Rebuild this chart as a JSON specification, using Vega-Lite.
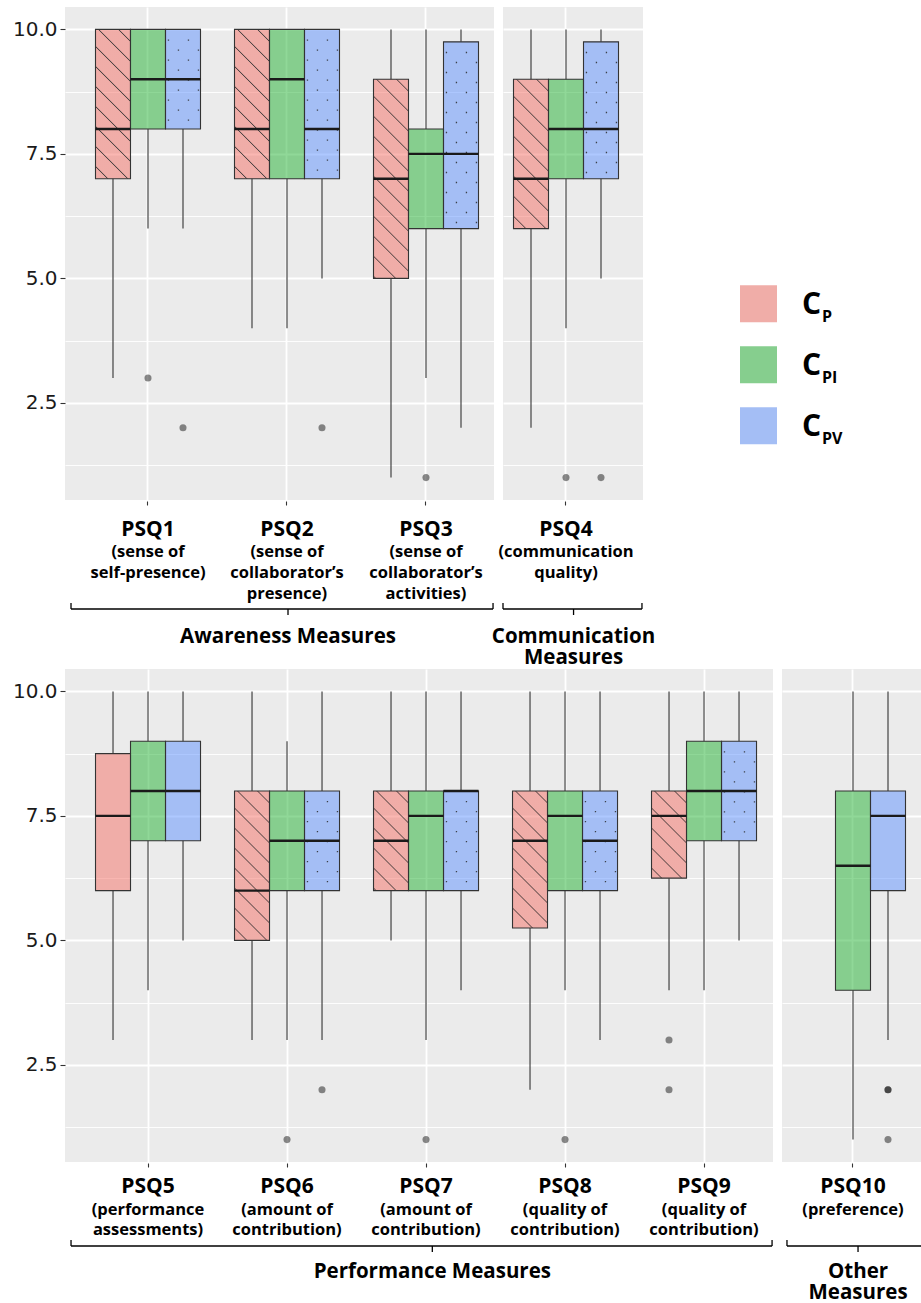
{
  "$schema": "https://vega.github.io/schema/vega-lite/v6.json",
  "background": "white",
  "padding": {"left": 12, "top": 7, "right": 0, "bottom": 0},
  "autosize": {"type": "pad"},
  "config": {"view": {"stroke": null}, "font": "Open Sans"},
  "datasets": {
    "boxes": [
      {"q": "PSQ1", "cond": "Cp", "lower": 3, "q1": 7, "median": 8, "q3": 10, "upper": 10},
      {"q": "PSQ1", "cond": "Cpi", "lower": 6, "q1": 8, "median": 9, "q3": 10, "upper": 10},
      {"q": "PSQ1", "cond": "Cpv", "lower": 6, "q1": 8, "median": 9, "q3": 10, "upper": 10},
      {"q": "PSQ2", "cond": "Cp", "lower": 4, "q1": 7, "median": 8, "q3": 10, "upper": 10},
      {"q": "PSQ2", "cond": "Cpi", "lower": 4, "q1": 7, "median": 9, "q3": 10, "upper": 10},
      {"q": "PSQ2", "cond": "Cpv", "lower": 5, "q1": 7, "median": 8, "q3": 10, "upper": 10},
      {"q": "PSQ3", "cond": "Cp", "lower": 1, "q1": 5, "median": 7, "q3": 9, "upper": 10},
      {"q": "PSQ3", "cond": "Cpi", "lower": 3, "q1": 6, "median": 7.5, "q3": 8, "upper": 10},
      {"q": "PSQ3", "cond": "Cpv", "lower": 2, "q1": 6, "median": 7.5, "q3": 9.75, "upper": 10},
      {"q": "PSQ4", "cond": "Cp", "lower": 2, "q1": 6, "median": 7, "q3": 9, "upper": 10},
      {"q": "PSQ4", "cond": "Cpi", "lower": 4, "q1": 7, "median": 8, "q3": 9, "upper": 10},
      {"q": "PSQ4", "cond": "Cpv", "lower": 5, "q1": 7, "median": 8, "q3": 9.75, "upper": 10},
      {"q": "PSQ5", "cond": "Cp", "lower": 3, "q1": 6, "median": 7.5, "q3": 8.75, "upper": 10},
      {"q": "PSQ5", "cond": "Cpi", "lower": 4, "q1": 7, "median": 8, "q3": 9, "upper": 10},
      {"q": "PSQ5", "cond": "Cpv", "lower": 5, "q1": 7, "median": 8, "q3": 9, "upper": 10},
      {"q": "PSQ6", "cond": "Cp", "lower": 3, "q1": 5, "median": 6, "q3": 8, "upper": 10},
      {"q": "PSQ6", "cond": "Cpi", "lower": 3, "q1": 6, "median": 7, "q3": 8, "upper": 9},
      {"q": "PSQ6", "cond": "Cpv", "lower": 3, "q1": 6, "median": 7, "q3": 8, "upper": 10},
      {"q": "PSQ7", "cond": "Cp", "lower": 5, "q1": 6, "median": 7, "q3": 8, "upper": 10},
      {"q": "PSQ7", "cond": "Cpi", "lower": 3, "q1": 6, "median": 7.5, "q3": 8, "upper": 10},
      {"q": "PSQ7", "cond": "Cpv", "lower": 4, "q1": 6, "median": 8, "q3": 8, "upper": 10},
      {"q": "PSQ8", "cond": "Cp", "lower": 2, "q1": 5.25, "median": 7, "q3": 8, "upper": 10},
      {"q": "PSQ8", "cond": "Cpi", "lower": 4, "q1": 6, "median": 7.5, "q3": 8, "upper": 10},
      {"q": "PSQ8", "cond": "Cpv", "lower": 3, "q1": 6, "median": 7, "q3": 8, "upper": 10},
      {"q": "PSQ9", "cond": "Cp", "lower": 4, "q1": 6.25, "median": 7.5, "q3": 8, "upper": 10},
      {"q": "PSQ9", "cond": "Cpi", "lower": 4, "q1": 7, "median": 8, "q3": 9, "upper": 10},
      {"q": "PSQ9", "cond": "Cpv", "lower": 5, "q1": 7, "median": 8, "q3": 9, "upper": 10},
      {"q": "PSQ10", "cond": "Cpi", "lower": 1, "q1": 4, "median": 6.5, "q3": 8, "upper": 10},
      {"q": "PSQ10", "cond": "Cpv", "lower": 3, "q1": 6, "median": 7.5, "q3": 8, "upper": 10}
    ],
    "outliers": [
      {"q": "PSQ1", "cond": "Cpi", "value": 3},
      {"q": "PSQ1", "cond": "Cpv", "value": 2},
      {"q": "PSQ2", "cond": "Cpv", "value": 2},
      {"q": "PSQ3", "cond": "Cpi", "value": 1},
      {"q": "PSQ4", "cond": "Cpi", "value": 1},
      {"q": "PSQ4", "cond": "Cpv", "value": 1},
      {"q": "PSQ6", "cond": "Cpi", "value": 1},
      {"q": "PSQ6", "cond": "Cpv", "value": 2},
      {"q": "PSQ7", "cond": "Cpi", "value": 1},
      {"q": "PSQ8", "cond": "Cpi", "value": 1},
      {"q": "PSQ9", "cond": "Cp", "value": 3},
      {"q": "PSQ9", "cond": "Cp", "value": 2},
      {"q": "PSQ10", "cond": "Cpv", "value": 2},
      {"q": "PSQ10", "cond": "Cpv", "value": 2},
      {"q": "PSQ10", "cond": "Cpv", "value": 1}
    ],
    "questions": [
      {"q": "PSQ1", "measure": "Awareness", "title": "PSQ1", "desc": "(sense of\nself-presence)"},
      {"q": "PSQ2", "measure": "Awareness", "title": "PSQ2", "desc": "(sense of\ncollaborator’s\npresence)"},
      {"q": "PSQ3", "measure": "Awareness", "title": "PSQ3", "desc": "(sense of\ncollaborator’s\nactivities)"},
      {"q": "PSQ4", "measure": "Communication", "title": "PSQ4", "desc": "(communication\nquality)"},
      {"q": "PSQ5", "measure": "Performance", "title": "PSQ5", "desc": "(performance\nassessments)"},
      {"q": "PSQ6", "measure": "Performance", "title": "PSQ6", "desc": "(amount of\ncontribution)"},
      {"q": "PSQ7", "measure": "Performance", "title": "PSQ7", "desc": "(amount of\ncontribution)"},
      {"q": "PSQ8", "measure": "Performance", "title": "PSQ8", "desc": "(quality of\ncontribution)"},
      {"q": "PSQ9", "measure": "Performance", "title": "PSQ9", "desc": "(quality of\ncontribution)"},
      {"q": "PSQ10", "measure": "Other", "title": "PSQ10", "desc": "(preference)"}
    ],
    "groups": [
      {"measure": "Awareness", "label": "Awareness Measures", "first": "PSQ1", "mid": "PSQ2", "last": "PSQ3"},
      {"measure": "Communication", "label": "Communication\nMeasures", "first": "PSQ4", "mid": "PSQ4", "last": "PSQ4"},
      {"measure": "Performance", "label": "Performance Measures", "first": "PSQ5", "mid": "PSQ7", "last": "PSQ9"},
      {"measure": "Other", "label": "Other\nMeasures", "first": "PSQ10", "mid": "PSQ10", "last": "PSQ10"}
    ],
    "legendKeys": [
      {"key": "Cp", "main": "C", "sub": "P"},
      {"key": "Cpi", "main": "C", "sub": "PI"},
      {"key": "Cpv", "main": "C", "sub": "PV"}
    ]
  },
  "spacing": 0,
  "resolve": {"scale": {"fill": "independent"}},
  "vconcat": [
    {
      "spacing": 9,
      "bounds": "flush",
      "resolve": {"scale": {"fill": "independent"}},
      "hconcat": [
        {
          "width": 429,
          "height": 493,
          "view": {"fill": "#EBEBEB", "stroke": null},
          "encoding": {
            "x": {"field": "q", "type": "nominal", "title": null,
              "scale": {"type": "band", "domain": ["PSQ1", "PSQ2", "PSQ3"], "paddingInner": 0.0935, "paddingOuter": 0.0899, "align": 0.8},
              "axis": {"title": null, "labels": false, "ticks": false, "domain": false, "grid": true, "gridColor": "#FFFFFF", "gridWidth": 1.8, "bandPosition": 0.5}},
            "xOffset": {"field": "cond", "type": "nominal", "scale": {"domain": ["Cp", "Cpi", "Cpv"], "paddingInner": 0, "paddingOuter": 0.3}}
          },
          "layer": [
            {"data": {"name": "boxes"}, "transform": [{"filter": {"field": "q", "oneOf": ["PSQ1", "PSQ2", "PSQ3"]}}],
              "mark": {"type": "rule", "color": "#333333", "strokeWidth": 1.1},
              "encoding": {
                "y": {"field": "lower", "type": "quantitative", "title": null, "scale": {"domain": [0.55, 10.45], "nice": false, "zero": false},
                  "axis": {"title": null, "values": [1.25, 2.5, 3.75, 5, 6.25, 7.5, 8.75, 10], "labelExpr": "datum.value % 2.5 === 0 ? format(datum.value, '.1f') : ''", "labelFont": "DejaVu Sans", "labelFontSize": 20, "labelColor": "#1a1a1a", "labelPadding": 3, "tickSize": 5, "tickColor": "#333333", "tickWidth": 1.1, "tickOpacity": {"condition": {"test": "datum.value % 2.5 !== 0", "value": 0}, "value": 1}, "domain": false, "grid": true, "gridColor": "#FFFFFF", "gridWidth": {"condition": {"test": "datum.value % 2.5 === 0", "value": 1.8}, "value": 0.9}}},
                "y2": {"field": "q1"}}},
            {"data": {"name": "boxes"}, "transform": [{"filter": {"field": "q", "oneOf": ["PSQ1", "PSQ2", "PSQ3"]}}],
              "mark": {"type": "rule", "color": "#333333", "strokeWidth": 1.1},
              "encoding": {"y": {"field": "q3", "type": "quantitative", "title": null, "scale": {"domain": [0.55, 10.45], "nice": false, "zero": false}}, "y2": {"field": "upper"}}},
            {"data": {"name": "boxes"}, "transform": [{"filter": {"field": "q", "oneOf": ["PSQ1", "PSQ2", "PSQ3"]}}],
              "mark": {"type": "bar", "stroke": "#333333", "strokeWidth": 1.1},
              "encoding": {
                "y": {"field": "q1", "type": "quantitative", "title": null, "scale": {"domain": [0.55, 10.45], "nice": false, "zero": false}},
                "y2": {"field": "q3"},
                "fill": {"field": "cond", "type": "nominal", "legend": null,
                  "scale": {"domain": ["Cp", "Cpi", "Cpv"], "range": ["rgba(245,111,101,0.5)", "rgba(33,177,49,0.5)", "rgba(93,145,255,0.5)"]},
                  "condition": [
                    {"test": "datum.cond === 'Cp' && datum.q !== 'PSQ5' && datum.q3 - datum.q1 === 3",
                      "value": {"gradient": "linear", "x1": 1, "y1": 0, "x2": 0.7259, "y2": 1.1701, "stops": [
                        {"offset": 0, "color": "rgba(245,111,101,0.5)"},
                        {"offset": 0.0586, "color": "rgba(245,111,101,0.5)"}, {"offset": 0.0651, "color": "rgba(30,30,30,0.85)"}, {"offset": 0.0716, "color": "rgba(245,111,101,0.5)"},
                        {"offset": 0.1670, "color": "rgba(245,111,101,0.5)"}, {"offset": 0.1735, "color": "rgba(30,30,30,0.85)"}, {"offset": 0.1800, "color": "rgba(245,111,101,0.5)"},
                        {"offset": 0.2755, "color": "rgba(245,111,101,0.5)"}, {"offset": 0.2820, "color": "rgba(30,30,30,0.85)"}, {"offset": 0.2885, "color": "rgba(245,111,101,0.5)"},
                        {"offset": 0.3839, "color": "rgba(245,111,101,0.5)"}, {"offset": 0.3905, "color": "rgba(30,30,30,0.85)"}, {"offset": 0.3970, "color": "rgba(245,111,101,0.5)"},
                        {"offset": 0.4924, "color": "rgba(245,111,101,0.5)"}, {"offset": 0.4989, "color": "rgba(30,30,30,0.85)"}, {"offset": 0.5054, "color": "rgba(245,111,101,0.5)"},
                        {"offset": 0.6009, "color": "rgba(245,111,101,0.5)"}, {"offset": 0.6074, "color": "rgba(30,30,30,0.85)"}, {"offset": 0.6139, "color": "rgba(245,111,101,0.5)"},
                        {"offset": 0.7093, "color": "rgba(245,111,101,0.5)"}, {"offset": 0.7158, "color": "rgba(30,30,30,0.85)"}, {"offset": 0.7223, "color": "rgba(245,111,101,0.5)"},
                        {"offset": 0.8178, "color": "rgba(245,111,101,0.5)"}, {"offset": 0.8243, "color": "rgba(30,30,30,0.85)"}, {"offset": 0.8308, "color": "rgba(245,111,101,0.5)"},
                        {"offset": 0.9262, "color": "rgba(245,111,101,0.5)"}, {"offset": 0.9328, "color": "rgba(30,30,30,0.85)"}, {"offset": 0.9393, "color": "rgba(245,111,101,0.5)"},
                        {"offset": 1, "color": "rgba(245,111,101,0.5)"}]}},
                    {"test": "datum.cond === 'Cp' && datum.q !== 'PSQ5' && datum.q3 - datum.q1 === 4",
                      "value": {"gradient": "linear", "x1": 1, "y1": 0, "x2": 0.7996, "y2": 1.1405, "stops": [
                        {"offset": 0, "color": "rgba(245,111,101,0.5)"},
                        {"offset": 0.0461, "color": "rgba(245,111,101,0.5)"}, {"offset": 0.0512, "color": "rgba(30,30,30,0.85)"}, {"offset": 0.0564, "color": "rgba(245,111,101,0.5)"},
                        {"offset": 0.1315, "color": "rgba(245,111,101,0.5)"}, {"offset": 0.1366, "color": "rgba(30,30,30,0.85)"}, {"offset": 0.1418, "color": "rgba(245,111,101,0.5)"},
                        {"offset": 0.2169, "color": "rgba(245,111,101,0.5)"}, {"offset": 0.2220, "color": "rgba(30,30,30,0.85)"}, {"offset": 0.2272, "color": "rgba(245,111,101,0.5)"},
                        {"offset": 0.3023, "color": "rgba(245,111,101,0.5)"}, {"offset": 0.3074, "color": "rgba(30,30,30,0.85)"}, {"offset": 0.3126, "color": "rgba(245,111,101,0.5)"},
                        {"offset": 0.3877, "color": "rgba(245,111,101,0.5)"}, {"offset": 0.3928, "color": "rgba(30,30,30,0.85)"}, {"offset": 0.3980, "color": "rgba(245,111,101,0.5)"},
                        {"offset": 0.4731, "color": "rgba(245,111,101,0.5)"}, {"offset": 0.4782, "color": "rgba(30,30,30,0.85)"}, {"offset": 0.4834, "color": "rgba(245,111,101,0.5)"},
                        {"offset": 0.5585, "color": "rgba(245,111,101,0.5)"}, {"offset": 0.5636, "color": "rgba(30,30,30,0.85)"}, {"offset": 0.5688, "color": "rgba(245,111,101,0.5)"},
                        {"offset": 0.6439, "color": "rgba(245,111,101,0.5)"}, {"offset": 0.6490, "color": "rgba(30,30,30,0.85)"}, {"offset": 0.6541, "color": "rgba(245,111,101,0.5)"},
                        {"offset": 0.7293, "color": "rgba(245,111,101,0.5)"}, {"offset": 0.7344, "color": "rgba(30,30,30,0.85)"}, {"offset": 0.7395, "color": "rgba(245,111,101,0.5)"},
                        {"offset": 0.8147, "color": "rgba(245,111,101,0.5)"}, {"offset": 0.8198, "color": "rgba(30,30,30,0.85)"}, {"offset": 0.8249, "color": "rgba(245,111,101,0.5)"},
                        {"offset": 0.9001, "color": "rgba(245,111,101,0.5)"}, {"offset": 0.9052, "color": "rgba(30,30,30,0.85)"}, {"offset": 0.9103, "color": "rgba(245,111,101,0.5)"},
                        {"offset": 0.9855, "color": "rgba(245,111,101,0.5)"}, {"offset": 0.9906, "color": "rgba(30,30,30,0.85)"}, {"offset": 0.9957, "color": "rgba(245,111,101,0.5)"},
                        {"offset": 1, "color": "rgba(245,111,101,0.5)"}]}}
                  ]}}},
            {"data": {"name": "boxes"}, "transform": [{"filter": "datum.cond === 'Cpv' && datum.q !== 'PSQ5'"}, {"filter": {"field": "q", "oneOf": ["PSQ1", "PSQ2", "PSQ3"]}}],
              "mark": {"type": "point", "filled": true, "size": 4, "color": "#2a2a2a", "opacity": 0.85, "strokeWidth": 0},
              "encoding": {
                "y": {"field": "q3", "type": "quantitative", "title": null, "scale": {"domain": [0.55, 10.45], "nice": false, "zero": false}},
                "shape": {
                  "condition": [
                    {"test": "datum.q3 - datum.q1 === 3", "value": "M-15.2 10h1.3v1.3h-1.3zM4.8 10h1.3v1.3h-1.3zM-5.2 20h1.3v1.3h-1.3zM14.8 20h1.3v1.3h-1.3zM-15.2 30h1.3v1.3h-1.3zM4.8 30h1.3v1.3h-1.3zM-5.2 40h1.3v1.3h-1.3zM14.8 40h1.3v1.3h-1.3zM-15.2 50h1.3v1.3h-1.3zM4.8 50h1.3v1.3h-1.3zM-5.2 60h1.3v1.3h-1.3zM14.8 60h1.3v1.3h-1.3zM-15.2 70h1.3v1.3h-1.3zM4.8 70h1.3v1.3h-1.3zM-5.2 80h1.3v1.3h-1.3zM14.8 80h1.3v1.3h-1.3zM-15.2 90h1.3v1.3h-1.3zM4.8 90h1.3v1.3h-1.3zM-5.2 100h1.3v1.3h-1.3zM14.8 100h1.3v1.3h-1.3zM-15.2 110h1.3v1.3h-1.3zM4.8 110h1.3v1.3h-1.3zM-5.2 120h1.3v1.3h-1.3zM14.8 120h1.3v1.3h-1.3zM-15.2 130h1.3v1.3h-1.3zM4.8 130h1.3v1.3h-1.3zM-5.2 140h1.3v1.3h-1.3zM14.8 140h1.3v1.3h-1.3z"},
                    {"test": "datum.q3 - datum.q1 === 3.75", "value": "M-15.2 10h1.3v1.3h-1.3zM4.8 10h1.3v1.3h-1.3zM-5.2 20h1.3v1.3h-1.3zM14.8 20h1.3v1.3h-1.3zM-15.2 30h1.3v1.3h-1.3zM4.8 30h1.3v1.3h-1.3zM-5.2 40h1.3v1.3h-1.3zM14.8 40h1.3v1.3h-1.3zM-15.2 50h1.3v1.3h-1.3zM4.8 50h1.3v1.3h-1.3zM-5.2 60h1.3v1.3h-1.3zM14.8 60h1.3v1.3h-1.3zM-15.2 70h1.3v1.3h-1.3zM4.8 70h1.3v1.3h-1.3zM-5.2 80h1.3v1.3h-1.3zM14.8 80h1.3v1.3h-1.3zM-15.2 90h1.3v1.3h-1.3zM4.8 90h1.3v1.3h-1.3zM-5.2 100h1.3v1.3h-1.3zM14.8 100h1.3v1.3h-1.3zM-15.2 110h1.3v1.3h-1.3zM4.8 110h1.3v1.3h-1.3zM-5.2 120h1.3v1.3h-1.3zM14.8 120h1.3v1.3h-1.3zM-15.2 130h1.3v1.3h-1.3zM4.8 130h1.3v1.3h-1.3zM-5.2 140h1.3v1.3h-1.3zM14.8 140h1.3v1.3h-1.3zM-15.2 150h1.3v1.3h-1.3zM4.8 150h1.3v1.3h-1.3zM-5.2 160h1.3v1.3h-1.3zM14.8 160h1.3v1.3h-1.3zM-15.2 170h1.3v1.3h-1.3zM4.8 170h1.3v1.3h-1.3zM-5.2 180h1.3v1.3h-1.3zM14.8 180h1.3v1.3h-1.3z"}
                  ],
                  "value": "M-15.2 10h1.3v1.3h-1.3zM4.8 10h1.3v1.3h-1.3zM-5.2 20h1.3v1.3h-1.3zM14.8 20h1.3v1.3h-1.3zM-15.2 30h1.3v1.3h-1.3zM4.8 30h1.3v1.3h-1.3zM-5.2 40h1.3v1.3h-1.3zM14.8 40h1.3v1.3h-1.3zM-15.2 50h1.3v1.3h-1.3zM4.8 50h1.3v1.3h-1.3zM-5.2 60h1.3v1.3h-1.3zM14.8 60h1.3v1.3h-1.3zM-15.2 70h1.3v1.3h-1.3zM4.8 70h1.3v1.3h-1.3zM-5.2 80h1.3v1.3h-1.3zM14.8 80h1.3v1.3h-1.3zM-15.2 90h1.3v1.3h-1.3zM4.8 90h1.3v1.3h-1.3z"}}},
            {"data": {"name": "boxes"}, "transform": [{"filter": {"field": "q", "oneOf": ["PSQ1", "PSQ2", "PSQ3"]}}],
              "mark": {"type": "bar", "filled": false, "stroke": "#1a1a1a", "strokeWidth": 2.4},
              "encoding": {"y": {"field": "median", "type": "quantitative", "title": null, "scale": {"domain": [0.55, 10.45], "nice": false, "zero": false}}, "y2": {"field": "median"}}},
            {"data": {"name": "outliers"}, "transform": [{"filter": {"field": "q", "oneOf": ["PSQ1", "PSQ2", "PSQ3"]}}],
              "mark": {"type": "point", "filled": true, "color": "#000000", "opacity": 0.45, "size": 50, "strokeWidth": 0},
              "encoding": {"y": {"field": "value", "type": "quantitative", "title": null, "scale": {"domain": [0.55, 10.45], "nice": false, "zero": false}}}}
          ]
        },
        {
          "width": 140,
          "height": 493,
          "view": {"fill": "#EBEBEB", "stroke": null},
          "encoding": {
            "x": {"field": "q", "type": "nominal", "title": null,
              "scale": {"type": "band", "domain": ["PSQ4"], "paddingInner": 0, "paddingOuter": 0.0556, "align": 0},
              "axis": {"title": null, "labels": false, "ticks": false, "domain": false, "grid": true, "gridColor": "#FFFFFF", "gridWidth": 1.8, "bandPosition": 0.5}},
            "xOffset": {"field": "cond", "type": "nominal", "scale": {"domain": ["Cp", "Cpi", "Cpv"], "paddingInner": 0, "paddingOuter": 0.3}}
          },
          "layer": [
            {"data": {"name": "boxes"}, "transform": [{"filter": {"field": "q", "oneOf": ["PSQ4"]}}],
              "mark": {"type": "rule", "color": "#333333", "strokeWidth": 1.1},
              "encoding": {
                "y": {"field": "lower", "type": "quantitative", "title": null, "scale": {"domain": [0.55, 10.45], "nice": false, "zero": false},
                  "axis": {"title": null, "values": [1.25, 2.5, 3.75, 5, 6.25, 7.5, 8.75, 10], "labels": false, "ticks": false, "domain": false, "grid": true, "gridColor": "#FFFFFF", "gridWidth": {"condition": {"test": "datum.value % 2.5 === 0", "value": 1.8}, "value": 0.9}}},
                "y2": {"field": "q1"}}},
            {"data": {"name": "boxes"}, "transform": [{"filter": {"field": "q", "oneOf": ["PSQ4"]}}],
              "mark": {"type": "rule", "color": "#333333", "strokeWidth": 1.1},
              "encoding": {"y": {"field": "q3", "type": "quantitative", "title": null, "scale": {"domain": [0.55, 10.45], "nice": false, "zero": false}}, "y2": {"field": "upper"}}},
            {"data": {"name": "boxes"}, "transform": [{"filter": {"field": "q", "oneOf": ["PSQ4"]}}],
              "mark": {"type": "bar", "stroke": "#333333", "strokeWidth": 1.1},
              "encoding": {
                "y": {"field": "q1", "type": "quantitative", "title": null, "scale": {"domain": [0.55, 10.45], "nice": false, "zero": false}},
                "y2": {"field": "q3"},
                "fill": {"field": "cond", "type": "nominal", "legend": null,
                  "scale": {"domain": ["Cp", "Cpi", "Cpv"], "range": ["rgba(245,111,101,0.5)", "rgba(33,177,49,0.5)", "rgba(93,145,255,0.5)"]},
                  "condition": [
                    {"test": "datum.cond === 'Cp' && datum.q !== 'PSQ5' && datum.q3 - datum.q1 === 3",
                      "value": {"gradient": "linear", "x1": 1, "y1": 0, "x2": 0.7259, "y2": 1.1701, "stops": [
                        {"offset": 0, "color": "rgba(245,111,101,0.5)"},
                        {"offset": 0.0586, "color": "rgba(245,111,101,0.5)"}, {"offset": 0.0651, "color": "rgba(30,30,30,0.85)"}, {"offset": 0.0716, "color": "rgba(245,111,101,0.5)"},
                        {"offset": 0.1670, "color": "rgba(245,111,101,0.5)"}, {"offset": 0.1735, "color": "rgba(30,30,30,0.85)"}, {"offset": 0.1800, "color": "rgba(245,111,101,0.5)"},
                        {"offset": 0.2755, "color": "rgba(245,111,101,0.5)"}, {"offset": 0.2820, "color": "rgba(30,30,30,0.85)"}, {"offset": 0.2885, "color": "rgba(245,111,101,0.5)"},
                        {"offset": 0.3839, "color": "rgba(245,111,101,0.5)"}, {"offset": 0.3905, "color": "rgba(30,30,30,0.85)"}, {"offset": 0.3970, "color": "rgba(245,111,101,0.5)"},
                        {"offset": 0.4924, "color": "rgba(245,111,101,0.5)"}, {"offset": 0.4989, "color": "rgba(30,30,30,0.85)"}, {"offset": 0.5054, "color": "rgba(245,111,101,0.5)"},
                        {"offset": 0.6009, "color": "rgba(245,111,101,0.5)"}, {"offset": 0.6074, "color": "rgba(30,30,30,0.85)"}, {"offset": 0.6139, "color": "rgba(245,111,101,0.5)"},
                        {"offset": 0.7093, "color": "rgba(245,111,101,0.5)"}, {"offset": 0.7158, "color": "rgba(30,30,30,0.85)"}, {"offset": 0.7223, "color": "rgba(245,111,101,0.5)"},
                        {"offset": 0.8178, "color": "rgba(245,111,101,0.5)"}, {"offset": 0.8243, "color": "rgba(30,30,30,0.85)"}, {"offset": 0.8308, "color": "rgba(245,111,101,0.5)"},
                        {"offset": 0.9262, "color": "rgba(245,111,101,0.5)"}, {"offset": 0.9328, "color": "rgba(30,30,30,0.85)"}, {"offset": 0.9393, "color": "rgba(245,111,101,0.5)"},
                        {"offset": 1, "color": "rgba(245,111,101,0.5)"}]}}
                  ]}}},
            {"data": {"name": "boxes"}, "transform": [{"filter": "datum.cond === 'Cpv' && datum.q !== 'PSQ5'"}, {"filter": {"field": "q", "oneOf": ["PSQ4"]}}],
              "mark": {"type": "point", "filled": true, "size": 4, "color": "#2a2a2a", "opacity": 0.85, "strokeWidth": 0},
              "encoding": {
                "y": {"field": "q3", "type": "quantitative", "title": null, "scale": {"domain": [0.55, 10.45], "nice": false, "zero": false}},
                "shape": {"value": "M-15.2 10h1.3v1.3h-1.3zM4.8 10h1.3v1.3h-1.3zM-5.2 20h1.3v1.3h-1.3zM14.8 20h1.3v1.3h-1.3zM-15.2 30h1.3v1.3h-1.3zM4.8 30h1.3v1.3h-1.3zM-5.2 40h1.3v1.3h-1.3zM14.8 40h1.3v1.3h-1.3zM-15.2 50h1.3v1.3h-1.3zM4.8 50h1.3v1.3h-1.3zM-5.2 60h1.3v1.3h-1.3zM14.8 60h1.3v1.3h-1.3zM-15.2 70h1.3v1.3h-1.3zM4.8 70h1.3v1.3h-1.3zM-5.2 80h1.3v1.3h-1.3zM14.8 80h1.3v1.3h-1.3zM-15.2 90h1.3v1.3h-1.3zM4.8 90h1.3v1.3h-1.3zM-5.2 100h1.3v1.3h-1.3zM14.8 100h1.3v1.3h-1.3zM-15.2 110h1.3v1.3h-1.3zM4.8 110h1.3v1.3h-1.3zM-5.2 120h1.3v1.3h-1.3zM14.8 120h1.3v1.3h-1.3zM-15.2 130h1.3v1.3h-1.3zM4.8 130h1.3v1.3h-1.3z"}}},
            {"data": {"name": "boxes"}, "transform": [{"filter": {"field": "q", "oneOf": ["PSQ4"]}}],
              "mark": {"type": "bar", "filled": false, "stroke": "#1a1a1a", "strokeWidth": 2.4},
              "encoding": {"y": {"field": "median", "type": "quantitative", "title": null, "scale": {"domain": [0.55, 10.45], "nice": false, "zero": false}}, "y2": {"field": "median"}}},
            {"data": {"name": "outliers"}, "transform": [{"filter": {"field": "q", "oneOf": ["PSQ4"]}}],
              "mark": {"type": "point", "filled": true, "color": "#000000", "opacity": 0.45, "size": 50, "strokeWidth": 0},
              "encoding": {"y": {"field": "value", "type": "quantitative", "title": null, "scale": {"domain": [0.55, 10.45], "nice": false, "zero": false}}}}
          ]
        },
        {
          "width": 213,
          "height": 493,
          "data": {"name": "legendKeys"},
          "encoding": {
            "y": {"field": "key", "type": "nominal", "title": null, "scale": {"type": "point", "domain": ["Cp", "Cpi", "Cpv"], "range": [296.8, 418.8], "padding": 0}, "axis": null}
          },
          "layer": [
            {"mark": {"type": "point", "shape": "square", "filled": true, "size": 1369, "opacity": 1, "strokeWidth": 0},
              "encoding": {"fill": {"field": "key", "type": "nominal", "legend": null, "scale": {"domain": ["Cp", "Cpi", "Cpv"], "range": ["#F0ADA8", "#86CE8E", "#A4BEF5"]}}}},
            {"mark": {"type": "text", "font": "Open Sans", "fontWeight": "bold", "fontSize": 30, "align": "left", "baseline": "alphabetic", "dx": 43.5, "dy": 9.8, "color": "#000000"},
              "encoding": {"text": {"field": "main"}}},
            {"mark": {"type": "text", "font": "Open Sans", "fontWeight": "bold", "fontSize": 16, "align": "left", "baseline": "alphabetic", "dx": 63.5, "dy": 18.5, "color": "#000000"},
              "encoding": {"text": {"field": "sub"}}}
          ]
        }
      ]
    },
    {
      "spacing": 9,
      "bounds": "flush",
      "hconcat": [
        {
          "width": 429,
          "height": 168,
          "layer": [
            {"data": {"name": "questions"}, "transform": [{"filter": {"field": "measure", "equal": "Awareness"}}],
              "mark": {"type": "text", "font": "Open Sans", "fontWeight": "bold", "fontSize": 21, "baseline": "middle", "align": "center", "color": "#000000"},
              "encoding": {
                "x": {"field": "q", "type": "nominal", "title": null, "bandPosition": 0.5,
                  "scale": {"type": "band", "domain": ["PSQ1", "PSQ2", "PSQ3"], "paddingInner": 0.0935, "paddingOuter": 0.0899, "align": 0.8},
                  "axis": {"orient": "top", "title": null, "labels": false, "domain": false, "grid": false, "ticks": true, "tickSize": 4, "tickColor": "#333333", "tickWidth": 1.1, "offset": -4, "bandPosition": 0.5}},
                "y": {"datum": 1.381, "type": "quantitative", "scale": {"domain": [0, 8], "reverse": true}, "axis": null},
                "text": {"field": "title"}}},
            {"data": {"name": "questions"}, "transform": [{"filter": {"field": "measure", "equal": "Awareness"}}],
              "mark": {"type": "text", "font": "Open Sans", "fontWeight": "bold", "fontSize": 16.5, "baseline": "top", "align": "center", "lineBreak": "\n", "lineHeight": 21, "color": "#000000"},
              "encoding": {
                "x": {"field": "q", "type": "nominal", "title": null, "bandPosition": 0.5},
                "y": {"datum": 2.033, "type": "quantitative", "scale": {"domain": [0, 8], "reverse": true}, "axis": null},
                "text": {"field": "desc"}}},
            {"data": {"name": "groups"}, "transform": [{"filter": {"field": "measure", "equal": "Awareness"}}],
              "mark": {"type": "rule", "color": "#000000", "strokeWidth": 1.3},
              "encoding": {
                "x": {"field": "first", "type": "nominal", "title": null, "bandPosition": -0.111},
                "x2": {"field": "last", "bandPosition": 1.032},
                "y": {"datum": 5.143, "type": "quantitative", "scale": {"domain": [0, 8], "reverse": true}, "axis": null}}},
            {"data": {"name": "groups"}, "transform": [{"filter": {"field": "measure", "equal": "Awareness"}}],
              "mark": {"type": "rule", "color": "#000000", "strokeWidth": 1.3},
              "encoding": {
                "x": {"field": "first", "type": "nominal", "title": null, "bandPosition": -0.111},
                "y": {"datum": 4.857, "type": "quantitative", "scale": {"domain": [0, 8], "reverse": true}, "axis": null},
                "y2": {"datum": 5.143}}},
            {"data": {"name": "groups"}, "transform": [{"filter": {"field": "measure", "equal": "Awareness"}}],
              "mark": {"type": "rule", "color": "#000000", "strokeWidth": 1.3},
              "encoding": {
                "x": {"field": "last", "type": "nominal", "title": null, "bandPosition": 1.032},
                "y": {"datum": 4.857, "type": "quantitative", "scale": {"domain": [0, 8], "reverse": true}, "axis": null},
                "y2": {"datum": 5.143}}},
            {"data": {"name": "groups"}, "transform": [{"filter": {"field": "measure", "equal": "Awareness"}}],
              "mark": {"type": "rule", "color": "#000000", "strokeWidth": 1.3},
              "encoding": {
                "x": {"field": "mid", "type": "nominal", "title": null, "bandPosition": 0.508},
                "y": {"datum": 5.143, "type": "quantitative", "scale": {"domain": [0, 8], "reverse": true}, "axis": null},
                "y2": {"datum": 5.429}}},
            {"data": {"name": "groups"}, "transform": [{"filter": {"field": "measure", "equal": "Awareness"}}],
              "mark": {"type": "text", "font": "Open Sans", "fontWeight": "bold", "fontSize": 20.5, "baseline": "alphabetic", "align": "center", "lineBreak": "\n", "lineHeight": 21, "color": "#000000"},
              "encoding": {
                "x": {"field": "mid", "type": "nominal", "title": null, "bandPosition": 0.508},
                "y": {"datum": 6.748, "type": "quantitative", "scale": {"domain": [0, 8], "reverse": true}, "axis": null},
                "text": {"field": "label"}}}
          ]
        },
        {
          "width": 140,
          "height": 168,
          "layer": [
            {"data": {"name": "questions"}, "transform": [{"filter": {"field": "measure", "equal": "Communication"}}],
              "mark": {"type": "text", "font": "Open Sans", "fontWeight": "bold", "fontSize": 21, "baseline": "middle", "align": "center", "color": "#000000"},
              "encoding": {
                "x": {"field": "q", "type": "nominal", "title": null, "bandPosition": 0.5,
                  "scale": {"type": "band", "domain": ["PSQ4"], "paddingInner": 0, "paddingOuter": 0.0556, "align": 0},
                  "axis": {"orient": "top", "title": null, "labels": false, "domain": false, "grid": false, "ticks": true, "tickSize": 4, "tickColor": "#333333", "tickWidth": 1.1, "offset": -4, "bandPosition": 0.5}},
                "y": {"datum": 1.381, "type": "quantitative", "scale": {"domain": [0, 8], "reverse": true}, "axis": null},
                "text": {"field": "title"}}},
            {"data": {"name": "questions"}, "transform": [{"filter": {"field": "measure", "equal": "Communication"}}],
              "mark": {"type": "text", "font": "Open Sans", "fontWeight": "bold", "fontSize": 16.5, "baseline": "top", "align": "center", "lineBreak": "\n", "lineHeight": 21, "color": "#000000"},
              "encoding": {
                "x": {"field": "q", "type": "nominal", "title": null, "bandPosition": 0.5},
                "y": {"datum": 2.033, "type": "quantitative", "scale": {"domain": [0, 8], "reverse": true}, "axis": null},
                "text": {"field": "desc"}}},
            {"data": {"name": "groups"}, "transform": [{"filter": {"field": "measure", "equal": "Communication"}}],
              "mark": {"type": "rule", "color": "#000000", "strokeWidth": 1.3},
              "encoding": {
                "x": {"field": "first", "type": "nominal", "title": null, "bandPosition": 0},
                "x2": {"field": "last", "bandPosition": 1.103},
                "y": {"datum": 5.143, "type": "quantitative", "scale": {"domain": [0, 8], "reverse": true}, "axis": null}}},
            {"data": {"name": "groups"}, "transform": [{"filter": {"field": "measure", "equal": "Communication"}}],
              "mark": {"type": "rule", "color": "#000000", "strokeWidth": 1.3},
              "encoding": {
                "x": {"field": "first", "type": "nominal", "title": null, "bandPosition": 0},
                "y": {"datum": 4.857, "type": "quantitative", "scale": {"domain": [0, 8], "reverse": true}, "axis": null},
                "y2": {"datum": 5.143}}},
            {"data": {"name": "groups"}, "transform": [{"filter": {"field": "measure", "equal": "Communication"}}],
              "mark": {"type": "rule", "color": "#000000", "strokeWidth": 1.3},
              "encoding": {
                "x": {"field": "last", "type": "nominal", "title": null, "bandPosition": 1.103},
                "y": {"datum": 4.857, "type": "quantitative", "scale": {"domain": [0, 8], "reverse": true}, "axis": null},
                "y2": {"datum": 5.143}}},
            {"data": {"name": "groups"}, "transform": [{"filter": {"field": "measure", "equal": "Communication"}}],
              "mark": {"type": "rule", "color": "#000000", "strokeWidth": 1.3},
              "encoding": {
                "x": {"field": "mid", "type": "nominal", "title": null, "bandPosition": 0.56},
                "y": {"datum": 5.143, "type": "quantitative", "scale": {"domain": [0, 8], "reverse": true}, "axis": null},
                "y2": {"datum": 5.429}}},
            {"data": {"name": "groups"}, "transform": [{"filter": {"field": "measure", "equal": "Communication"}}],
              "mark": {"type": "text", "font": "Open Sans", "fontWeight": "bold", "fontSize": 20.5, "baseline": "alphabetic", "align": "center", "lineBreak": "\n", "lineHeight": 21, "color": "#000000"},
              "encoding": {
                "x": {"field": "mid", "type": "nominal", "title": null, "bandPosition": 0.56},
                "y": {"datum": 6.748, "type": "quantitative", "scale": {"domain": [0, 8], "reverse": true}, "axis": null},
                "text": {"field": "label"}}}
          ]
        }
      ]
    },
    {
      "spacing": 9,
      "bounds": "flush",
      "resolve": {"scale": {"fill": "independent"}},
      "hconcat": [
        {
          "width": 708,
          "height": 493,
          "view": {"fill": "#EBEBEB", "stroke": null},
          "encoding": {
            "x": {"field": "q", "type": "nominal", "title": null,
              "scale": {"type": "band", "domain": ["PSQ5", "PSQ6", "PSQ7", "PSQ8", "PSQ9"], "paddingInner": 0.0935, "paddingOuter": 0.0935, "align": 0.77},
              "axis": {"title": null, "labels": false, "ticks": false, "domain": false, "grid": true, "gridColor": "#FFFFFF", "gridWidth": 1.8, "bandPosition": 0.5}},
            "xOffset": {"field": "cond", "type": "nominal", "scale": {"domain": ["Cp", "Cpi", "Cpv"], "paddingInner": 0, "paddingOuter": 0.3}}
          },
          "layer": [
            {"data": {"name": "boxes"}, "transform": [{"filter": {"field": "q", "oneOf": ["PSQ5", "PSQ6", "PSQ7", "PSQ8", "PSQ9"]}}],
              "mark": {"type": "rule", "color": "#333333", "strokeWidth": 1.1},
              "encoding": {
                "y": {"field": "lower", "type": "quantitative", "title": null, "scale": {"domain": [0.55, 10.45], "nice": false, "zero": false},
                  "axis": {"title": null, "values": [1.25, 2.5, 3.75, 5, 6.25, 7.5, 8.75, 10], "labelExpr": "datum.value % 2.5 === 0 ? format(datum.value, '.1f') : ''", "labelFont": "DejaVu Sans", "labelFontSize": 20, "labelColor": "#1a1a1a", "labelPadding": 3, "tickSize": 5, "tickColor": "#333333", "tickWidth": 1.1, "tickOpacity": {"condition": {"test": "datum.value % 2.5 !== 0", "value": 0}, "value": 1}, "domain": false, "grid": true, "gridColor": "#FFFFFF", "gridWidth": {"condition": {"test": "datum.value % 2.5 === 0", "value": 1.8}, "value": 0.9}}},
                "y2": {"field": "q1"}}},
            {"data": {"name": "boxes"}, "transform": [{"filter": {"field": "q", "oneOf": ["PSQ5", "PSQ6", "PSQ7", "PSQ8", "PSQ9"]}}],
              "mark": {"type": "rule", "color": "#333333", "strokeWidth": 1.1},
              "encoding": {"y": {"field": "q3", "type": "quantitative", "title": null, "scale": {"domain": [0.55, 10.45], "nice": false, "zero": false}}, "y2": {"field": "upper"}}},
            {"data": {"name": "boxes"}, "transform": [{"filter": {"field": "q", "oneOf": ["PSQ5", "PSQ6", "PSQ7", "PSQ8", "PSQ9"]}}],
              "mark": {"type": "bar", "stroke": "#333333", "strokeWidth": 1.1},
              "encoding": {
                "y": {"field": "q1", "type": "quantitative", "title": null, "scale": {"domain": [0.55, 10.45], "nice": false, "zero": false}},
                "y2": {"field": "q3"},
                "fill": {"field": "cond", "type": "nominal", "legend": null,
                  "scale": {"domain": ["Cp", "Cpi", "Cpv"], "range": ["rgba(245,111,101,0.5)", "rgba(33,177,49,0.5)", "rgba(93,145,255,0.5)"]},
                  "condition": [
                    {"test": "datum.cond === 'Cp' && datum.q !== 'PSQ5' && datum.q3 - datum.q1 === 3",
                      "value": {"gradient": "linear", "x1": 1, "y1": 0, "x2": 0.7259, "y2": 1.1701, "stops": [
                        {"offset": 0, "color": "rgba(245,111,101,0.5)"},
                        {"offset": 0.0586, "color": "rgba(245,111,101,0.5)"}, {"offset": 0.0651, "color": "rgba(30,30,30,0.85)"}, {"offset": 0.0716, "color": "rgba(245,111,101,0.5)"},
                        {"offset": 0.1670, "color": "rgba(245,111,101,0.5)"}, {"offset": 0.1735, "color": "rgba(30,30,30,0.85)"}, {"offset": 0.1800, "color": "rgba(245,111,101,0.5)"},
                        {"offset": 0.2755, "color": "rgba(245,111,101,0.5)"}, {"offset": 0.2820, "color": "rgba(30,30,30,0.85)"}, {"offset": 0.2885, "color": "rgba(245,111,101,0.5)"},
                        {"offset": 0.3839, "color": "rgba(245,111,101,0.5)"}, {"offset": 0.3905, "color": "rgba(30,30,30,0.85)"}, {"offset": 0.3970, "color": "rgba(245,111,101,0.5)"},
                        {"offset": 0.4924, "color": "rgba(245,111,101,0.5)"}, {"offset": 0.4989, "color": "rgba(30,30,30,0.85)"}, {"offset": 0.5054, "color": "rgba(245,111,101,0.5)"},
                        {"offset": 0.6009, "color": "rgba(245,111,101,0.5)"}, {"offset": 0.6074, "color": "rgba(30,30,30,0.85)"}, {"offset": 0.6139, "color": "rgba(245,111,101,0.5)"},
                        {"offset": 0.7093, "color": "rgba(245,111,101,0.5)"}, {"offset": 0.7158, "color": "rgba(30,30,30,0.85)"}, {"offset": 0.7223, "color": "rgba(245,111,101,0.5)"},
                        {"offset": 0.8178, "color": "rgba(245,111,101,0.5)"}, {"offset": 0.8243, "color": "rgba(30,30,30,0.85)"}, {"offset": 0.8308, "color": "rgba(245,111,101,0.5)"},
                        {"offset": 0.9262, "color": "rgba(245,111,101,0.5)"}, {"offset": 0.9328, "color": "rgba(30,30,30,0.85)"}, {"offset": 0.9393, "color": "rgba(245,111,101,0.5)"},
                        {"offset": 1, "color": "rgba(245,111,101,0.5)"}]}},
                    {"test": "datum.cond === 'Cp' && datum.q !== 'PSQ5' && datum.q3 - datum.q1 === 2",
                      "value": {"gradient": "linear", "x1": 1, "y1": 0, "x2": 0.5773, "y2": 1.2029, "stops": [
                        {"offset": 0, "color": "rgba(245,111,101,0.5)"},
                        {"offset": 0.0802, "color": "rgba(245,111,101,0.5)"}, {"offset": 0.0892, "color": "rgba(30,30,30,0.85)"}, {"offset": 0.0981, "color": "rgba(245,111,101,0.5)"},
                        {"offset": 0.2288, "color": "rgba(245,111,101,0.5)"}, {"offset": 0.2377, "color": "rgba(30,30,30,0.85)"}, {"offset": 0.2467, "color": "rgba(245,111,101,0.5)"},
                        {"offset": 0.3774, "color": "rgba(245,111,101,0.5)"}, {"offset": 0.3863, "color": "rgba(30,30,30,0.85)"}, {"offset": 0.3952, "color": "rgba(245,111,101,0.5)"},
                        {"offset": 0.5260, "color": "rgba(245,111,101,0.5)"}, {"offset": 0.5349, "color": "rgba(30,30,30,0.85)"}, {"offset": 0.5438, "color": "rgba(245,111,101,0.5)"},
                        {"offset": 0.6746, "color": "rgba(245,111,101,0.5)"}, {"offset": 0.6835, "color": "rgba(30,30,30,0.85)"}, {"offset": 0.6924, "color": "rgba(245,111,101,0.5)"},
                        {"offset": 0.8232, "color": "rgba(245,111,101,0.5)"}, {"offset": 0.8321, "color": "rgba(30,30,30,0.85)"}, {"offset": 0.8410, "color": "rgba(245,111,101,0.5)"},
                        {"offset": 0.9718, "color": "rgba(245,111,101,0.5)"}, {"offset": 0.9807, "color": "rgba(30,30,30,0.85)"}, {"offset": 0.9896, "color": "rgba(245,111,101,0.5)"},
                        {"offset": 1, "color": "rgba(245,111,101,0.5)"}]}},
                    {"test": "datum.cond === 'Cp' && datum.q !== 'PSQ5' && datum.q3 - datum.q1 === 2.75",
                      "value": {"gradient": "linear", "x1": 1, "y1": 0, "x2": 0.6988, "y2": 1.1786, "stops": [
                        {"offset": 0, "color": "rgba(245,111,101,0.5)"},
                        {"offset": 0.0628, "color": "rgba(245,111,101,0.5)"}, {"offset": 0.0698, "color": "rgba(30,30,30,0.85)"}, {"offset": 0.0768, "color": "rgba(245,111,101,0.5)"},
                        {"offset": 0.1791, "color": "rgba(245,111,101,0.5)"}, {"offset": 0.1861, "color": "rgba(30,30,30,0.85)"}, {"offset": 0.1931, "color": "rgba(245,111,101,0.5)"},
                        {"offset": 0.2954, "color": "rgba(245,111,101,0.5)"}, {"offset": 0.3024, "color": "rgba(30,30,30,0.85)"}, {"offset": 0.3094, "color": "rgba(245,111,101,0.5)"},
                        {"offset": 0.4117, "color": "rgba(245,111,101,0.5)"}, {"offset": 0.4187, "color": "rgba(30,30,30,0.85)"}, {"offset": 0.4257, "color": "rgba(245,111,101,0.5)"},
                        {"offset": 0.5281, "color": "rgba(245,111,101,0.5)"}, {"offset": 0.5350, "color": "rgba(30,30,30,0.85)"}, {"offset": 0.5420, "color": "rgba(245,111,101,0.5)"},
                        {"offset": 0.6444, "color": "rgba(245,111,101,0.5)"}, {"offset": 0.6513, "color": "rgba(30,30,30,0.85)"}, {"offset": 0.6583, "color": "rgba(245,111,101,0.5)"},
                        {"offset": 0.7607, "color": "rgba(245,111,101,0.5)"}, {"offset": 0.7677, "color": "rgba(30,30,30,0.85)"}, {"offset": 0.7746, "color": "rgba(245,111,101,0.5)"},
                        {"offset": 0.8770, "color": "rgba(245,111,101,0.5)"}, {"offset": 0.8840, "color": "rgba(30,30,30,0.85)"}, {"offset": 0.8910, "color": "rgba(245,111,101,0.5)"},
                        {"offset": 1, "color": "rgba(245,111,101,0.5)"}]}},
                    {"test": "datum.cond === 'Cp' && datum.q !== 'PSQ5' && datum.q3 - datum.q1 === 1.75",
                      "value": {"gradient": "linear", "x1": 1, "y1": 0, "x2": 0.5153, "y2": 1.2069, "stops": [
                        {"offset": 0, "color": "rgba(245,111,101,0.5)"},
                        {"offset": 0.0884, "color": "rgba(245,111,101,0.5)"}, {"offset": 0.0982, "color": "rgba(30,30,30,0.85)"}, {"offset": 0.1081, "color": "rgba(245,111,101,0.5)"},
                        {"offset": 0.2522, "color": "rgba(245,111,101,0.5)"}, {"offset": 0.2620, "color": "rgba(30,30,30,0.85)"}, {"offset": 0.2718, "color": "rgba(245,111,101,0.5)"},
                        {"offset": 0.4159, "color": "rgba(245,111,101,0.5)"}, {"offset": 0.4257, "color": "rgba(30,30,30,0.85)"}, {"offset": 0.4355, "color": "rgba(245,111,101,0.5)"},
                        {"offset": 0.5796, "color": "rgba(245,111,101,0.5)"}, {"offset": 0.5894, "color": "rgba(30,30,30,0.85)"}, {"offset": 0.5993, "color": "rgba(245,111,101,0.5)"},
                        {"offset": 0.7434, "color": "rgba(245,111,101,0.5)"}, {"offset": 0.7532, "color": "rgba(30,30,30,0.85)"}, {"offset": 0.7630, "color": "rgba(245,111,101,0.5)"},
                        {"offset": 0.9071, "color": "rgba(245,111,101,0.5)"}, {"offset": 0.9169, "color": "rgba(30,30,30,0.85)"}, {"offset": 0.9267, "color": "rgba(245,111,101,0.5)"},
                        {"offset": 1, "color": "rgba(245,111,101,0.5)"}]}}
                  ]}}},
            {"data": {"name": "boxes"}, "transform": [{"filter": "datum.cond === 'Cpv' && datum.q !== 'PSQ5'"}, {"filter": {"field": "q", "oneOf": ["PSQ5", "PSQ6", "PSQ7", "PSQ8", "PSQ9"]}}],
              "mark": {"type": "point", "filled": true, "size": 4, "color": "#2a2a2a", "opacity": 0.85, "strokeWidth": 0},
              "encoding": {
                "y": {"field": "q3", "type": "quantitative", "title": null, "scale": {"domain": [0.55, 10.45], "nice": false, "zero": false}},
                "shape": {"value": "M-15.2 10h1.3v1.3h-1.3zM4.8 10h1.3v1.3h-1.3zM-5.2 20h1.3v1.3h-1.3zM14.8 20h1.3v1.3h-1.3zM-15.2 30h1.3v1.3h-1.3zM4.8 30h1.3v1.3h-1.3zM-5.2 40h1.3v1.3h-1.3zM14.8 40h1.3v1.3h-1.3zM-15.2 50h1.3v1.3h-1.3zM4.8 50h1.3v1.3h-1.3zM-5.2 60h1.3v1.3h-1.3zM14.8 60h1.3v1.3h-1.3zM-15.2 70h1.3v1.3h-1.3zM4.8 70h1.3v1.3h-1.3zM-5.2 80h1.3v1.3h-1.3zM14.8 80h1.3v1.3h-1.3zM-15.2 90h1.3v1.3h-1.3zM4.8 90h1.3v1.3h-1.3z"}}},
            {"data": {"name": "boxes"}, "transform": [{"filter": {"field": "q", "oneOf": ["PSQ5", "PSQ6", "PSQ7", "PSQ8", "PSQ9"]}}],
              "mark": {"type": "bar", "filled": false, "stroke": "#1a1a1a", "strokeWidth": 2.4},
              "encoding": {"y": {"field": "median", "type": "quantitative", "title": null, "scale": {"domain": [0.55, 10.45], "nice": false, "zero": false}}, "y2": {"field": "median"}}},
            {"data": {"name": "outliers"}, "transform": [{"filter": {"field": "q", "oneOf": ["PSQ5", "PSQ6", "PSQ7", "PSQ8", "PSQ9"]}}],
              "mark": {"type": "point", "filled": true, "color": "#000000", "opacity": 0.45, "size": 50, "strokeWidth": 0},
              "encoding": {"y": {"field": "value", "type": "quantitative", "title": null, "scale": {"domain": [0.55, 10.45], "nice": false, "zero": false}}}}
          ]
        },
        {
          "width": 139,
          "height": 493,
          "view": {"fill": "#EBEBEB", "stroke": null},
          "encoding": {
            "x": {"field": "q", "type": "nominal", "title": null,
              "scale": {"type": "band", "domain": ["PSQ10"], "paddingInner": 0, "paddingOuter": 0.0516, "align": 0.615},
              "axis": {"title": null, "labels": false, "ticks": false, "domain": false, "grid": true, "gridColor": "#FFFFFF", "gridWidth": 1.8, "bandPosition": 0.5}},
            "xOffset": {"field": "cond", "type": "nominal", "scale": {"domain": ["Cpi", "Cpv"], "paddingInner": 0, "paddingOuter": 0.2115}}
          },
          "layer": [
            {"data": {"name": "boxes"}, "transform": [{"filter": {"field": "q", "oneOf": ["PSQ10"]}}],
              "mark": {"type": "rule", "color": "#333333", "strokeWidth": 1.1},
              "encoding": {
                "y": {"field": "lower", "type": "quantitative", "title": null, "scale": {"domain": [0.55, 10.45], "nice": false, "zero": false},
                  "axis": {"title": null, "values": [1.25, 2.5, 3.75, 5, 6.25, 7.5, 8.75, 10], "labels": false, "ticks": false, "domain": false, "grid": true, "gridColor": "#FFFFFF", "gridWidth": {"condition": {"test": "datum.value % 2.5 === 0", "value": 1.8}, "value": 0.9}}},
                "y2": {"field": "q1"}}},
            {"data": {"name": "boxes"}, "transform": [{"filter": {"field": "q", "oneOf": ["PSQ10"]}}],
              "mark": {"type": "rule", "color": "#333333", "strokeWidth": 1.1},
              "encoding": {"y": {"field": "q3", "type": "quantitative", "title": null, "scale": {"domain": [0.55, 10.45], "nice": false, "zero": false}}, "y2": {"field": "upper"}}},
            {"data": {"name": "boxes"}, "transform": [{"filter": {"field": "q", "oneOf": ["PSQ10"]}}],
              "mark": {"type": "bar", "stroke": "#333333", "strokeWidth": 1.1},
              "encoding": {
                "y": {"field": "q1", "type": "quantitative", "title": null, "scale": {"domain": [0.55, 10.45], "nice": false, "zero": false}},
                "y2": {"field": "q3"},
                "fill": {"field": "cond", "type": "nominal", "legend": null,
                  "scale": {"domain": ["Cp", "Cpi", "Cpv"], "range": ["rgba(245,111,101,0.5)", "rgba(33,177,49,0.5)", "rgba(93,145,255,0.5)"]}}}},
            {"data": {"name": "boxes"}, "transform": [{"filter": {"field": "q", "oneOf": ["PSQ10"]}}],
              "mark": {"type": "bar", "filled": false, "stroke": "#1a1a1a", "strokeWidth": 2.4},
              "encoding": {"y": {"field": "median", "type": "quantitative", "title": null, "scale": {"domain": [0.55, 10.45], "nice": false, "zero": false}}, "y2": {"field": "median"}}},
            {"data": {"name": "outliers"}, "transform": [{"filter": {"field": "q", "oneOf": ["PSQ10"]}}],
              "mark": {"type": "point", "filled": true, "color": "#000000", "opacity": 0.45, "size": 50, "strokeWidth": 0},
              "encoding": {"y": {"field": "value", "type": "quantitative", "title": null, "scale": {"domain": [0.55, 10.45], "nice": false, "zero": false}}}}
          ]
        }
      ]
    },
    {
      "spacing": 9,
      "bounds": "flush",
      "hconcat": [
        {
          "width": 708,
          "height": 147,
          "layer": [
            {"data": {"name": "questions"}, "transform": [{"filter": {"field": "measure", "equal": "Performance"}}],
              "mark": {"type": "text", "font": "Open Sans", "fontWeight": "bold", "fontSize": 21, "baseline": "middle", "align": "center", "color": "#000000"},
              "encoding": {
                "x": {"field": "q", "type": "nominal", "title": null, "bandPosition": 0.5,
                  "scale": {"type": "band", "domain": ["PSQ5", "PSQ6", "PSQ7", "PSQ8", "PSQ9"], "paddingInner": 0.0935, "paddingOuter": 0.0935, "align": 0.77},
                  "axis": {"orient": "top", "title": null, "labels": false, "domain": false, "grid": false, "ticks": true, "tickSize": 4, "tickColor": "#333333", "tickWidth": 1.1, "offset": -4, "bandPosition": 0.5}},
                "y": {"datum": 1.143, "type": "quantitative", "scale": {"domain": [0, 7], "reverse": true}, "axis": null},
                "text": {"field": "title"}}},
            {"data": {"name": "questions"}, "transform": [{"filter": {"field": "measure", "equal": "Performance"}}],
              "mark": {"type": "text", "font": "Open Sans", "fontWeight": "bold", "fontSize": 16.5, "baseline": "top", "align": "center", "lineBreak": "\n", "lineHeight": 20, "color": "#000000"},
              "encoding": {
                "x": {"field": "q", "type": "nominal", "title": null, "bandPosition": 0.5},
                "y": {"datum": 1.871, "type": "quantitative", "scale": {"domain": [0, 7], "reverse": true}, "axis": null},
                "text": {"field": "desc"}}},
            {"data": {"name": "groups"}, "transform": [{"filter": {"field": "measure", "equal": "Performance"}}],
              "mark": {"type": "rule", "color": "#000000", "strokeWidth": 1.3},
              "encoding": {
                "x": {"field": "first", "type": "nominal", "title": null, "bandPosition": -0.111},
                "x2": {"field": "last", "bandPosition": 1.04},
                "y": {"datum": 3.952, "type": "quantitative", "scale": {"domain": [0, 7], "reverse": true}, "axis": null}}},
            {"data": {"name": "groups"}, "transform": [{"filter": {"field": "measure", "equal": "Performance"}}],
              "mark": {"type": "rule", "color": "#000000", "strokeWidth": 1.3},
              "encoding": {
                "x": {"field": "first", "type": "nominal", "title": null, "bandPosition": -0.111},
                "y": {"datum": 3.667, "type": "quantitative", "scale": {"domain": [0, 7], "reverse": true}, "axis": null},
                "y2": {"datum": 3.952}}},
            {"data": {"name": "groups"}, "transform": [{"filter": {"field": "measure", "equal": "Performance"}}],
              "mark": {"type": "rule", "color": "#000000", "strokeWidth": 1.3},
              "encoding": {
                "x": {"field": "last", "type": "nominal", "title": null, "bandPosition": 1.04},
                "y": {"datum": 3.667, "type": "quantitative", "scale": {"domain": [0, 7], "reverse": true}, "axis": null},
                "y2": {"datum": 3.952}}},
            {"data": {"name": "groups"}, "transform": [{"filter": {"field": "measure", "equal": "Performance"}}],
              "mark": {"type": "rule", "color": "#000000", "strokeWidth": 1.3},
              "encoding": {
                "x": {"field": "mid", "type": "nominal", "title": null, "bandPosition": 0.55},
                "y": {"datum": 3.952, "type": "quantitative", "scale": {"domain": [0, 7], "reverse": true}, "axis": null},
                "y2": {"datum": 4.238}}},
            {"data": {"name": "groups"}, "transform": [{"filter": {"field": "measure", "equal": "Performance"}}],
              "mark": {"type": "text", "font": "Open Sans", "fontWeight": "bold", "fontSize": 20.5, "baseline": "alphabetic", "align": "center", "lineBreak": "\n", "lineHeight": 21, "color": "#000000"},
              "encoding": {
                "x": {"field": "mid", "type": "nominal", "title": null, "bandPosition": 0.55},
                "y": {"datum": 5.49, "type": "quantitative", "scale": {"domain": [0, 7], "reverse": true}, "axis": null},
                "text": {"field": "label"}}}
          ]
        },
        {
          "width": 139,
          "height": 147,
          "layer": [
            {"data": {"name": "questions"}, "transform": [{"filter": {"field": "measure", "equal": "Other"}}],
              "mark": {"type": "text", "font": "Open Sans", "fontWeight": "bold", "fontSize": 21, "baseline": "middle", "align": "center", "color": "#000000"},
              "encoding": {
                "x": {"field": "q", "type": "nominal", "title": null, "bandPosition": 0.5,
                  "scale": {"type": "band", "domain": ["PSQ10"], "paddingInner": 0, "paddingOuter": 0.0516, "align": 0.615},
                  "axis": {"orient": "top", "title": null, "labels": false, "domain": false, "grid": false, "ticks": true, "tickSize": 4, "tickColor": "#333333", "tickWidth": 1.1, "offset": -4, "bandPosition": 0.5}},
                "y": {"datum": 1.143, "type": "quantitative", "scale": {"domain": [0, 7], "reverse": true}, "axis": null},
                "text": {"field": "title"}}},
            {"data": {"name": "questions"}, "transform": [{"filter": {"field": "measure", "equal": "Other"}}],
              "mark": {"type": "text", "font": "Open Sans", "fontWeight": "bold", "fontSize": 16.5, "baseline": "top", "align": "center", "lineBreak": "\n", "lineHeight": 20, "color": "#000000"},
              "encoding": {
                "x": {"field": "q", "type": "nominal", "title": null, "bandPosition": 0.5},
                "y": {"datum": 1.871, "type": "quantitative", "scale": {"domain": [0, 7], "reverse": true}, "axis": null},
                "text": {"field": "desc"}}},
            {"data": {"name": "groups"}, "transform": [{"filter": {"field": "measure", "equal": "Other"}}],
              "mark": {"type": "rule", "color": "#000000", "strokeWidth": 1.3},
              "encoding": {
                "x": {"field": "first", "type": "nominal", "title": null, "bandPosition": -0.024},
                "x2": {"field": "last", "bandPosition": 1.3},
                "y": {"datum": 3.952, "type": "quantitative", "scale": {"domain": [0, 7], "reverse": true}, "axis": null}}},
            {"data": {"name": "groups"}, "transform": [{"filter": {"field": "measure", "equal": "Other"}}],
              "mark": {"type": "rule", "color": "#000000", "strokeWidth": 1.3},
              "encoding": {
                "x": {"field": "first", "type": "nominal", "title": null, "bandPosition": -0.024},
                "y": {"datum": 3.667, "type": "quantitative", "scale": {"domain": [0, 7], "reverse": true}, "axis": null},
                "y2": {"datum": 3.952}}},
            {"data": {"name": "groups"}, "transform": [{"filter": {"field": "measure", "equal": "Other"}}],
              "mark": {"type": "rule", "color": "#000000", "strokeWidth": 1.3},
              "encoding": {
                "x": {"field": "mid", "type": "nominal", "title": null, "bandPosition": 0.54},
                "y": {"datum": 3.952, "type": "quantitative", "scale": {"domain": [0, 7], "reverse": true}, "axis": null},
                "y2": {"datum": 4.238}}},
            {"data": {"name": "groups"}, "transform": [{"filter": {"field": "measure", "equal": "Other"}}],
              "mark": {"type": "text", "font": "Open Sans", "fontWeight": "bold", "fontSize": 20.5, "baseline": "alphabetic", "align": "center", "lineBreak": "\n", "lineHeight": 21, "color": "#000000"},
              "encoding": {
                "x": {"field": "mid", "type": "nominal", "title": null, "bandPosition": 0.54},
                "y": {"datum": 5.49, "type": "quantitative", "scale": {"domain": [0, 7], "reverse": true}, "axis": null},
                "text": {"field": "label"}}}
          ]
        }
      ]
    }
  ]
}
